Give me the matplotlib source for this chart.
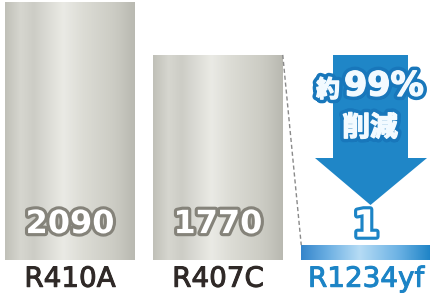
import numpy as np
import matplotlib
matplotlib.use("Agg")
import matplotlib.pyplot as plt
import matplotlib.patheffects as pe
from matplotlib.colors import LinearSegmentedColormap
from matplotlib.patches import Polygon

# GWP values of each refrigerant
refrigerants = ["R410A", "R407C", "R1234yf"]
gwp = [2090, 1770, 1]
reduction_pct = "99%"

base = 530   # axis starts here, chart is not drawn from zero
stub = 90    # visible height of the tiny bar

silver = LinearSegmentedColormap.from_list("silver", [
    (0.0, "#c0c0b8"), (0.12, "#d6d6cf"), (0.22, "#cdcdc6"), (0.45, "#eaeae5"),
    (0.6, "#dcdcd5"), (0.85, "#cbcbc3"), (1.0, "#b9b9b1")])
blue = LinearSegmentedColormap.from_list("blue", [
    (0.0, "#3585cb"), (0.2, "#6aaee2"), (0.45, "#b6dcf5"), (0.75, "#6cb2e4"), (1.0, "#1d83c6")])

fig = plt.figure(figsize=(4.3, 3.0), dpi=100)
ax = fig.add_axes([0, 40 / 300, 1, 260 / 300])
x = np.arange(len(gwp))
width = 0.875
shown = np.array([max(v, base + stub) for v in gwp])
bars = ax.bar(x, shown - base, bottom=base, width=width, color="none", edgecolor="none")

grad = np.linspace(0, 1, 256).reshape(1, -1)
for i, b in enumerate(bars):
    x0, y0 = b.get_x(), b.get_y()
    cmap = blue if i == len(bars) - 1 else silver
    im = ax.imshow(grad, extent=[x0, x0 + b.get_width(), y0, y0 + b.get_height()],
                   cmap=cmap, aspect="auto", zorder=1)
    im.set_clip_path(b)

ax.set_xlim(-70 / 148, (430 - 70) / 148)
ax.set_ylim(base, base + (2090 - base) * 260 / 258)
ax.axis("off")

# dashed guide from the R407C bar to the R1234yf bar
ax.plot([x[1] + width / 2, x[2] - width / 2], [shown[1], shown[2]],
        ls=(0, (3, 2)), color="#8a8a8a", lw=1, zorder=2)

dark = "#2f2927"
blue_txt = "#1c84c6"
for i, (name, v) in enumerate(zip(refrigerants, gwp)):
    last = i == len(gwp) - 1
    ax.annotate(name, (x[i], base), xytext=(0, -13.5), textcoords="offset points",
                ha="center", va="center", fontsize=20, color=blue_txt if last else dark,
                path_effects=[pe.withStroke(linewidth=0.7, foreground=blue_txt if last else dark)])
    ax.annotate(str(v), (x[i], base), xytext=(0, 25.5 if not last else 24), textcoords="offset points",
                ha="center", va="center", fontsize=23 if not last else 27, fontweight="bold",
                color="white", zorder=5,
                path_effects=[pe.withStroke(linewidth=4.5, foreground=blue_txt if last else "#85837a")])

# down arrow (figure pixel coordinates)
def px(a, b):
    return (a / 430, 1 - b / 300)

arrow = Polygon([px(333, 55), px(408, 55), px(408, 158), px(427, 158), px(370.5, 205),
                 px(315, 158), px(333, 158)], closed=True, transform=fig.transFigure,
                facecolor="#1f86c7", edgecolor="none", zorder=3)
fig.add_artist(arrow)

cjk = ["Noto Sans CJK JP", "DejaVu Sans"]
fx = [pe.SimplePatchShadow(offset=(1.5, -2.5), shadow_rgbFace="#0b3f70", alpha=0.55),
      pe.withStroke(linewidth=6, foreground="#1877bb"),
      pe.withStroke(linewidth=1, foreground="#f2faff")]
fig.text(*px(328, 90), "約", ha="center", va="center", fontsize=17, fontweight="bold",
         family=cjk, color="#f2faff", path_effects=fx, zorder=6)
fig.text(*px(384, 86), reduction_pct, ha="center", va="center", fontsize=24, fontweight="bold",
         color="#f2faff", path_effects=fx, zorder=6)
fig.text(*px(370, 128), "削減", ha="center", va="center", fontsize=20, fontweight="bold",
         family=cjk, color="#f2faff", path_effects=fx, zorder=6)

fig.savefig("out.png", dpi=100)
